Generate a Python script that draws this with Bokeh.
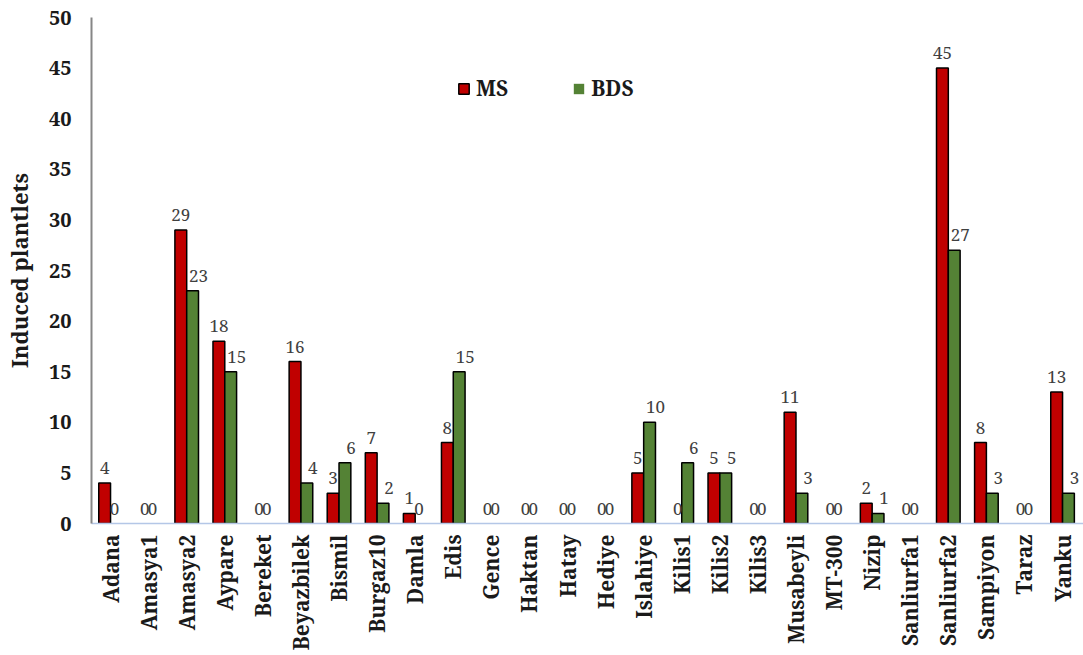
import numpy as np
from bokeh.plotting import figure
from bokeh.models import ColumnDataSource, FixedTicker, Range1d, Legend, LegendItem
from bokeh.transform import dodge
from bokeh.core.properties import value
from bokeh.embed import file_html
from bokeh.resources import INLINE

# Chickpea cultivars and the number of induced plantlets per medium
cultivars = ["Adana", "Amasya1", "Amasya2", "Aypare", "Bereket", "Beyazbilek",
             "Bismil", "Burgaz10", "Damla", "Edis", "Gence", "Haktan", "Hatay",
             "Hediye", "Islahiye", "Kilis1", "Kilis2", "Kilis3", "Musabeyli",
             "MT-300", "Nizip", "Sanliurfa1", "Sanliurfa2", "Sampiyon", "Taraz",
             "Yanku"]
ms_counts = [4, 0, 29, 18, 0, 16, 3, 7, 1, 8, 0, 0, 0, 0, 5, 0, 5, 0, 11, 0, 2,
             0, 45, 8, 0, 13]
bds_counts = [0, 0, 23, 15, 0, 4, 6, 2, 0, 15, 0, 0, 0, 0, 10, 6, 5, 0, 3, 0, 1,
              0, 27, 3, 0, 3]
y_ticks = [0, 5, 10, 15, 20, 25, 30, 35, 40, 45, 50]

SERIF = "Noto Serif"
RED = "#C00000"
GREEN = "#548235"
INK = "#1a1a1a"

pos = list(range(len(cultivars)))
src = ColumnDataSource(dict(
    x=pos,
    ms=ms_counts,
    bds=bds_counts,
    ms_txt=[str(v) for v in ms_counts],
    bds_txt=[str(v) for v in bds_counts],
    # empty bars get no outline
    ms_edge=[0 if v == 0 else 1 for v in ms_counts],
    bds_edge=[0 if v == 0 else 1 for v in bds_counts],
    # zero labels sit close together, others stand slightly apart
    ms_dx=[2 if v == 0 else 0 for v in ms_counts],
    bds_dx=[-2 if v == 0 else 6 for v in bds_counts],
))

p = figure(width=1083, height=655, output_backend="svg", toolbar_location=None,
           x_range=Range1d(-0.5, 25.55), y_range=Range1d(0, 50),
           min_border_left=91, min_border_right=0, min_border_top=17,
           min_border_bottom=132)
p.outline_line_color = None
p.xgrid.visible = False
p.ygrid.visible = False
p.background_fill_color = "white"
p.border_fill_color = "white"

bw = 0.31
r_ms = p.vbar(x=dodge("x", -0.155, range=p.x_range), top="ms", width=bw,
              source=src, fill_color=RED, line_color="black", line_width=1.5,
              line_alpha="ms_edge")
r_bds = p.vbar(x=dodge("x", 0.155, range=p.x_range), top="bds", width=bw,
               source=src, fill_color=GREEN, line_color="black", line_width=1.5,
               line_alpha="bds_edge")

label_kw = dict(source=src, text_font=value(SERIF), text_font_size="17px",
                text_color="#404040", text_align="center",
                text_baseline="alphabetic", y_offset=-15)
p.text(x=dodge("x", -0.155, range=p.x_range), y="ms", text="ms_txt",
       x_offset="ms_dx", **label_kw)
p.text(x=dodge("x", 0.155, range=p.x_range), y="bds", text="bds_txt",
       x_offset="bds_dx", **label_kw)

# y axis
p.yaxis.ticker = FixedTicker(ticks=y_ticks)
p.yaxis.axis_label = "Induced plantlets"
p.yaxis.axis_label_text_font = SERIF
p.yaxis.axis_label_text_font_style = "bold"
p.yaxis.axis_label_text_font_size = "22px"
p.yaxis.axis_label_text_color = INK
p.yaxis.axis_label_standoff = 12
p.yaxis.major_label_text_font = SERIF
p.yaxis.major_label_text_font_style = "bold"
p.yaxis.major_label_text_font_size = "20px"
p.yaxis.major_label_text_color = INK
p.yaxis.major_label_standoff = 20
p.yaxis.major_tick_out = 0
p.yaxis.major_tick_in = 0
p.yaxis.minor_tick_out = 0
p.yaxis.minor_tick_in = 0
p.yaxis.axis_line_color = "#868686"
p.yaxis.axis_line_width = 2

# x axis with cultivar names
p.xaxis.ticker = FixedTicker(ticks=pos)
p.xaxis.major_label_overrides = {i: n for i, n in zip(pos, cultivars)}
p.xaxis.major_label_orientation = np.pi / 2
p.xaxis.major_label_text_font = SERIF
p.xaxis.major_label_text_font_style = "bold"
p.xaxis.major_label_text_font_size = "21px"
p.xaxis.major_label_text_color = INK
p.xaxis.major_label_standoff = 11
p.xaxis.major_tick_out = 0
p.xaxis.major_tick_in = 0
p.xaxis.minor_tick_out = 0
p.xaxis.minor_tick_in = 0
p.xaxis.axis_line_color = "#b4c7e7"
p.xaxis.axis_line_width = 1.5

legend = Legend(items=[LegendItem(label="MS", renderers=[r_ms]),
                       LegendItem(label="BDS", renderers=[r_bds])],
                orientation="horizontal", location=(366, 421),
                label_text_font=SERIF, label_text_font_style="bold",
                label_text_font_size="21px", label_text_color=INK,
                glyph_width=13, glyph_height=13, label_standoff=6,
                spacing=64, padding=0, margin=0, border_line_color=None,
                background_fill_alpha=0)
p.add_layout(legend)

open("out.html", "w").write(file_html(p, INLINE))
